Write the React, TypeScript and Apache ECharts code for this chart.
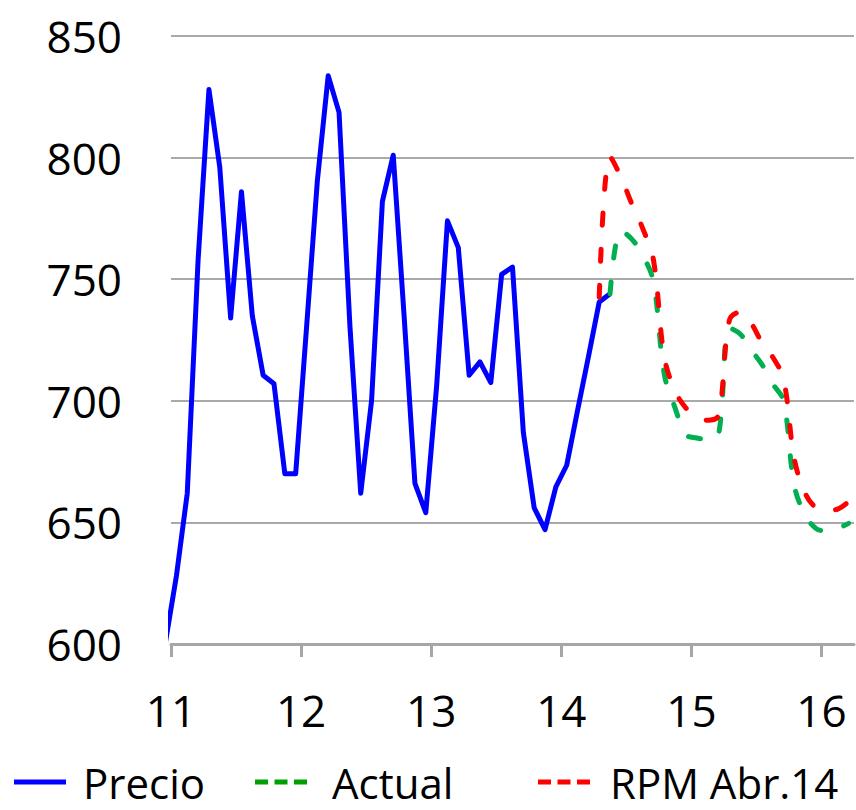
import React, { useEffect, useRef } from "react";
import * as echarts from "echarts";

// Monthly values, Dec 2010 .. May 2014 (Dec 2010 is outside the visible axis and gets clipped)
const precio = [
  601,
  628, 662, 758, 828, 796, 734, 786, 735, 710.5, 707, 670, 670,
  730, 790.5, 833.7, 818.6, 731, 662, 700, 782, 801, 735, 666, 654,
  706, 774, 763, 710.5, 716, 707.5, 752, 755, 687, 656, 647, 664.6,
  673.5, 696, 718, 740.6, 744,
];
const precioStart = -1; // month index (0 = Jan 2011)

// Apr 2014 .. Mar 2016
const rpm = [
  742.6, 800.4, 792, 781, 771, 758, 718, 704, 697,
  693, 692, 694, 733, 736.5, 732, 724, 718, 709, 676, 662, 656,
  655, 655.5, 658.5,
];
const rpmStart = 39;

// May 2014 .. Mar 2016
const actual = [
  744, 770, 766.5, 760, 749, 711, 697, 686,
  684.7, 684, 686, 730, 727.5, 721, 715, 707, 700, 665, 653, 647.5,
  646.5, 647.5, 649.6,
];
const actualStart = 40;

const yearLabels = ["11", "12", "13", "14", "15", "16"];
const monthsShown = 63;

const FONT = "'Open Sans', 'DejaVu Sans', sans-serif";
const DASH_ICON = "path://M0,0h13v5h-13z M19.5,0h13v5h-13z M39,0h13v5h-13z";

function toPoints(values: number[], start: number) {
  return values.map((v, i) => [start + i + 0.5, v]);
}

export default function App() {
  const ref = useRef<HTMLDivElement>(null);
  useEffect(() => {
    document.body.style.margin = "0";
    if (!ref.current) return;
    const chart = echarts.init(ref.current, undefined, { renderer: "svg" });
    const tickVals = yearLabels.map((_, i) => i * 12);
    const legendBase = (left: number, name: string, icon: string, gap: number) => ({
      orient: "horizontal" as const,
      top: 761,
      left,
      padding: 0,
      itemWidth: 52,
      itemHeight: 5,
      data: [{ name, icon }],
      textStyle: {
        fontFamily: FONT,
        fontSize: 42,
        color: "#000",
        padding: [0, 0, 0, gap],
      },
    });
    chart.setOption({
      animation: false,
      backgroundColor: "#fff",
      grid: { left: 171, right: 2, top: 36, bottom: 166, containLabel: false },
      xAxis: {
        type: "value",
        min: 0,
        max: monthsShown,
        splitLine: { show: false },
        axisLine: { show: true, lineStyle: { color: "#a6a6a6", width: 3 } },
        axisTick: {
          show: true,
          customValues: tickVals,
          length: 13,
          lineStyle: { color: "#a6a6a6", width: 3 },
        },
        axisLabel: {
          customValues: tickVals,
          formatter: (v: number) => yearLabels[Math.round(v / 12)] ?? "",
          fontFamily: FONT,
          fontSize: 44,
          color: "#000",
          margin: 44,
        },
      },
      yAxis: {
        type: "value",
        min: 600,
        max: 850,
        interval: 50,
        axisLine: { show: false },
        axisTick: { show: false },
        splitLine: { lineStyle: { color: "#a9a9a9", width: 2 } },
        axisLabel: {
          fontFamily: FONT,
          fontSize: 44,
          color: "#000",
          margin: 49,
        },
      },
      legend: [
        legendBase(14, "Precio", "rect", 12),
        legendBase(255, "Actual", DASH_ICON, 20),
        legendBase(538, "RPM Abr.14", DASH_ICON, 15),
      ],
      series: [
        {
          name: "Precio",
          type: "line",
          data: toPoints(precio, precioStart),
          symbol: "none",
          clip: true,
          lineStyle: { color: "#0000ff", width: 5, join: "round" },
          itemStyle: { color: "#0000ff" },
        },
        {
          name: "Actual",
          type: "line",
          data: toPoints(actual, actualStart),
          symbol: "none",
          smooth: 0.35,
          lineStyle: { color: "#00b050", width: 5, type: [12, 24], cap: "round" },
          itemStyle: { color: "#00a000" },
        },
        {
          name: "RPM Abr.14",
          type: "line",
          data: toPoints(rpm, rpmStart),
          symbol: "none",
          smooth: 0.35,
          lineStyle: { color: "#ff0000", width: 5, type: [12, 24], cap: "round" },
          itemStyle: { color: "#ff0000" },
        },
      ],
    });
    return () => chart.dispose();
  }, []);
  return <div ref={ref} style={{ width: 856, height: 810 }} />;
}
